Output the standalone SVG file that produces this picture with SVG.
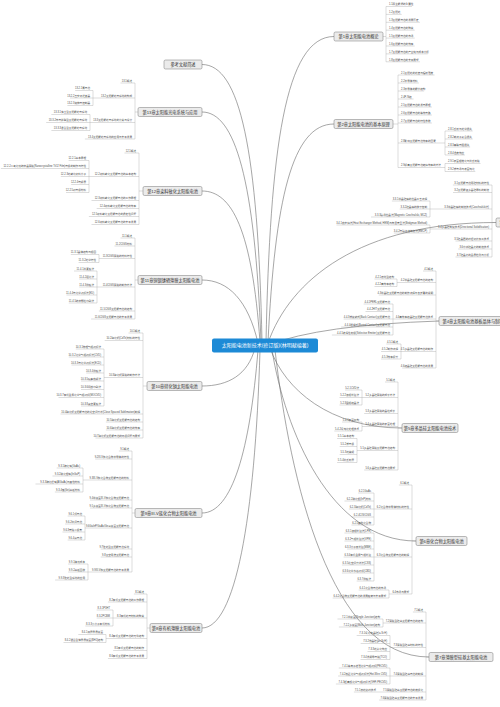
<svg xmlns="http://www.w3.org/2000/svg" width="500" height="707" viewBox="0 0 500 707">
<style>
text{font-family:"Liberation Sans","Noto Sans CJK SC",sans-serif}
.lf text{font-size:2.6px;fill:#4a4a4a}
.e{text-anchor:end}
.ch rect{fill:#ebebeb;stroke:#777;stroke-width:0.5}
.ch text{font-size:4.2px;fill:#333;text-anchor:middle}
.ch text.s{text-anchor:start}
.ln{fill:none;stroke:#9c9c9c;stroke-width:0.35}
.cv{fill:none;stroke:#6c6c6c;stroke-width:0.6}
</style>
<rect width="500" height="707" fill="#fff"/>
<g id="connectors">
<g class="cv">
<path d="M266,342 C270,150 285,36.5 334,36.5"/>
<path d="M268,342 C275,200 292,124 334,124"/>
<path d="M268,343 C290,280 360,222.5 496,222.5"/>
<path d="M268,345 Q320,325 439,321"/>
<path d="M270,348 C285,390 330,428 402,428"/>
<path d="M272,350 C285,430 330,541 416,541"/>
<path d="M275,350 C290,480 330,657 429,657"/>
<path d="M262,342 C258,150 240,64.5 202,64.5"/>
<path d="M261,342 C255,180 235,112 202,112"/>
<path d="M260,342 C252,230 232,191 202,191"/>
<path d="M258,343 C248,300 228,280 202,280"/>
<path d="M255,348 C248,375 228,386 202,386"/>
<path d="M258,350 C250,450 232,513 202,513"/>
<path d="M260,350 C255,520 235,628 202,628"/>
</g>
<g class="ln">
<path d="M383,36.5H386 M386,6.5V61.8 M386,6.5H412 M386,14.4H401.7 M386,22.3H419.9 M386,30.2H414.7 M386,38.1H414.7 M386,46H414.7 M386,53.9H427.7 M386,61.8H419.9"/>
<path d="M393,124H398 M398,75V167.5 M398,75H434.5 M398,83H418.9 M398,91H424.1 M398,99H413.5 M398,107H431.9 M398,115H431.9 M398,123H431.9 M398,143H445 M445,131V155 M445,131H472.7 M445,139H472.7 M445,147H470.1 M445,155H464.9 M398,167.5H445 M445,163.5V171.5 M445,163.5H480.5 M445,171.5H475.3"/>
<path d="M492,222.5H496 M492,185V257 M452.9,185H492 M453,192.5H492 M430,209H492 M430,201V217 M391.9,201H430 M399.7,209H430 M371,217H430 M430,229H492 M430,225V233 M336.5,225H430 M393.8,233H430 M455.5,241H492 M458.2,249H492 M455.5,257H492"/>
<path d="M436,321H439 M436,271V368 M423,271H436 M397,282.5H436 M397,279V286.5 M374.5,279H397 M374.5,286.5H397 M378.8,295H436 M393,319H436 M393,304V335 M363.7,304H393 M365.5,311.5H393 M343.7,319H393 M341.1,327H393 M331.9,335H393 M401,351.5H436 M401,344V359 M386.3,344H401 M381.1,351.5H401 M381.1,359H401 M402.2,368H436"/>
<path d="M398,428H402 M398,382V470 M385,382H398 M362,397.5H398 M362,390V405 M345.1,390H362 M339.5,397.5H362 M339.5,405H362 M364.2,413.5H398 M362,426.5H398 M362,422V431 M342.1,422H362 M334.3,431H362 M357,450.5H398 M357,438.5V462.5 M337.1,438.5H357 M339.7,446.5H357 M339.7,454.5H357 M337.1,462.5H357 M364.2,470H398"/>
<path d="M412,541H416 M412,485V594 M398.9,485H412 M374,509H412 M374,493V525 M358.1,493H374 M344.5,501H374 M348.9,509H374 M351.7,517H374 M351.5,525H374 M374,557H412 M374,533V581 M344.5,533H374 M344.5,541H374 M347.1,549H374 M343.7,557H374 M341.9,565H374 M341.9,573H374 M356.7,581H374 M389,594H412 M389,590V598 M358.7,590H389 M332.7,598H389"/>
<path d="M426,657H429 M426,612V700 M412.9,612H426 M383,623H426 M383,619V627 M337.5,619H383 M338.9,627H383 M390,647.5H426 M390,635.5V659.5 M356.7,635.5H390 M360.7,643.5H390 M367.5,651.5H390 M360.5,659.5H390 M390,676H426 M390,668V684 M338.8,668H390 M338.1,676H390 M335.9,684H390 M353.9,692H426 M379.2,700H426"/>
<path d="M135,112H138 M135,83V139 M120.5,83H135 M93,98H135 M93,90.5V105.5 M75.2,90.5H93 M70,98H93 M67.4,105.5H93 M90,122.5H135 M90,114.5V130.5 M51.4,114.5H90 M46.2,122.5H90 M51.4,130.5H90 M84.9,139H135"/>
<path d="M139,191H143 M139,153V224.5 M124.5,153H139 M89,176.5H139 M89,160.5V192.5 M68.6,160.5H89 M0.9,168.5H89 M60.8,176.5H89 M71.2,184.5H89 M66,192.5H89 M91.5,200.5H139 M96.7,208.5H139 M88.9,216.5H139 M91.5,224.5H139"/>
<path d="M135,280H138 M135,238V319 M120.5,238H135 M114.5,246H135 M99,258.5H135 M99,254.5V262.5 M70.8,254.5H99 M78.6,262.5H99 M97,287H135 M97,271V303 M74,271H97 M79.2,279H97 M79.2,287H97 M66.5,295H97 M68.8,303H97 M98.9,311H135 M91.1,319H135"/>
<path d="M143,386H147 M143,333V438 M128.5,333H143 M104.7,340.5H143 M104,377.5H143 M104,349V406 M75.8,349H104 M68.8,357H104 M71.5,365H104 M86.2,373H104 M81,381H104 M81,389.5H104 M58.5,397.5H104 M81,406H104 M60.5,414H143 M105.9,422H143 M105.9,430H143 M95.5,438H143"/>
<path d="M132,513H135 M132,451V572 M118.9,451H132 M95.2,459H132 M83,480H132 M83,468V492 M56.7,468H83 M52.5,476H83 M35.5,484H83 M54.9,492H83 M90,500H132 M90,508H132 M85,528H132 M85,516V540 M67.7,516H85 M65.1,524H85 M62.5,532H85 M67.7,540H85 M100.75,549H132 M100.75,557H132 M88,572H132 M88,564V580 M68.1,564H88 M68.1,572H88 M55.1,580H88"/>
<path d="M147,628H150 M147,594V658.5 M133.95,594H147 M107.95,602H147 M113,618H147 M113,610V626 M96.7,610H113 M96.7,618H113 M85.3,626H113 M106,638.5H147 M106,634.5V642.5 M78.3,634.5H106 M63.5,642.5H106 M113.15,650.5H147 M107.95,658.5H147"/>
</g>
</g>

<g id="ch1" class="ch"><rect x="334" y="32" width="49" height="9" rx="1.5"/><text x="358.5" y="38">第1章太阳能电池概论</text></g>
<g id="ch1-topics" class="lf">
<text x="389" y="5.4">1.1再生能源的重要性</text>
<text x="389" y="13.3">1.2太阳光</text>
<text x="389" y="21.2">1.3太阳能电池的发展历史</text>
<text x="389" y="29.1">1.4太阳能电池的种类</text>
<text x="389" y="37">1.5太阳能电池的市场</text>
<text x="389" y="44.9">1.6太阳能电池的效率</text>
<text x="389" y="52.8">1.7太阳能电池的产业链与成本分析</text>
<text x="389" y="60.7">1.8太阳能电池的未来展望</text>
</g>

<g id="ch2" class="ch"><rect x="334" y="119.5" width="59" height="9" rx="1.5"/><text x="363.5" y="125.5">第2章太阳能电池的基本原理</text></g>
<g id="ch2-topics" class="lf">
<text x="401" y="73.9">2.1太阳光的光谱与辐射强度</text>
<text x="401" y="81.9">2.2半导体材料</text>
<text x="401" y="89.9">2.3半导体的能带结构</text>
<text x="401" y="97.9">2.4P-N结</text>
<text x="401" y="105.9">2.5太阳能电池的发电原理</text>
<text x="401" y="113.9">2.6太阳能电池的等效电路</text>
<text x="401" y="121.9">2.7太阳能电池的特性参数</text>
<text x="401" y="141.9">2.8影响太阳能电池效率的因素</text>
<text x="448" y="129.9">2.8.1反射与光学损失</text>
<text x="448" y="137.9">2.8.2载流子复合损失</text>
<text x="448" y="145.9">2.8.3串联电阻损失</text>
<text x="448" y="153.9">2.8.4温度效应</text>
<text x="401" y="166.4">2.9提高太阳能电池转换效率的方法</text>
<text x="448" y="162.4">2.9.1表面粗糙化与抗反射膜</text>
<text x="448" y="170.4">2.9.2背电场与表面钝化</text>
</g>

<g id="ch3" class="ch"><rect x="496" y="218" width="80" height="9" rx="1.5"/><text class="s" x="499.5" y="224">第3章太阳能电池用硅晶材料</text></g>
<g id="ch3-topics" class="lf">
<text class="e" x="489" y="183.9">3.1太阳能电池用硅材料的特性</text>
<text class="e" x="489" y="191.4">3.2太阳能级多晶硅原料的制造</text>
<text class="e" x="489" y="207.9">3.3单晶硅棒的制造技术(Czochralski法)</text>
<text class="e" x="427" y="199.9">3.3.1单晶硅棒的拉晶工艺流程</text>
<text class="e" x="427" y="207.9">3.3.2硅晶棒的掺杂控制</text>
<text class="e" x="427" y="215.9">3.3.3磁场拉晶法(Magnetic Czochralski, MCZ)</text>
<text class="e" x="489" y="227.9">3.4多晶硅铸锭技术(Directional Solidification)</text>
<text class="e" x="427" y="223.9">3.4.1热交换法(Heat Exchanger Method, HEM)与布里奇曼法(Bridgman Method)</text>
<text class="e" x="427" y="231.9">3.4.2电磁连续铸造法(EMCP)</text>
<text class="e" x="489" y="239.9">3.5硅晶圆的线锯切片加工技术</text>
<text class="e" x="489" y="247.9">3.6带状硅晶片的制造技术</text>
<text class="e" x="489" y="255.9">3.7硅晶片的品质检测与分析</text>
</g>

<g id="ch4" class="ch"><rect x="439" y="316.5" width="90" height="9" rx="1.5"/><text class="s" x="442.5" y="322.5">第4章太阳能电池基板晶体与制程技术</text></g>
<g id="ch4-topics" class="lf">
<text class="e" x="433" y="269.9">4.1概述</text>
<text class="e" x="433" y="281.4">4.2单晶硅太阳能电池的结构</text>
<text class="e" x="394" y="277.9">4.2.1传统型结构</text>
<text class="e" x="394" y="285.4">4.2.2高效率结构</text>
<text class="e" x="433" y="293.9">4.3单晶硅太阳能电池的制作流程与各步骤的说明</text>
<text class="e" x="433" y="317.9">4.4高效率结晶硅太阳能电池技术</text>
<text class="e" x="390" y="302.9">4.4.1PERL太阳能电池</text>
<text class="e" x="390" y="310.4">4.4.2HIT太阳能电池</text>
<text class="e" x="390" y="317.9">4.4.3背接触式(Back Contact)太阳能电池</text>
<text class="e" x="390" y="325.9">4.4.4埋栅式(Buried Contact)太阳能电池</text>
<text class="e" x="390" y="333.9">4.4.5选择性射极(Selective Emitter)太阳能电池</text>
<text class="e" x="433" y="350.4">4.5多晶硅太阳能电池的制作</text>
<text class="e" x="398" y="342.9">4.5.1概述</text>
<text class="e" x="398" y="350.4">4.5.2制作流程</text>
<text class="e" x="398" y="357.9">4.5.3效率提升</text>
<text class="e" x="433" y="366.9">4.6结晶硅太阳能电池的发展</text>
</g>

<g id="ch5" class="ch"><rect x="402" y="423.5" width="56" height="9" rx="1.5"/><text x="430" y="429.5">第5章多晶硅太阳能电池技术</text></g>
<g id="ch5-topics" class="lf">
<text class="e" x="395" y="380.9">5.1概述</text>
<text class="e" x="395" y="396.4">5.2多晶硅薄膜的成长方法</text>
<text class="e" x="359" y="388.9">5.2.1CVD法</text>
<text class="e" x="359" y="396.4">5.2.2液相外延法</text>
<text class="e" x="359" y="403.9">5.2.3固相结晶法</text>
<text class="e" x="395" y="412.4">5.3多晶硅薄膜的晶粒成长</text>
<text class="e" x="395" y="425.4">5.4多晶硅薄膜的表面处理</text>
<text class="e" x="359" y="420.9">5.4.1表面织构</text>
<text class="e" x="359" y="429.9">5.4.2氢钝化处理技术</text>
<text class="e" x="395" y="449.4">5.5多晶硅薄膜太阳能电池结构</text>
<text class="e" x="354" y="437.4">5.5.1基本结构</text>
<text class="e" x="354" y="445.4">5.5.2背电极</text>
<text class="e" x="354" y="453.4">5.5.3光捕捉</text>
<text class="e" x="354" y="461.4">5.5.4抗反射层</text>
<text class="e" x="395" y="468.9">5.6多晶硅太阳能电池展望</text>
</g>

<g id="ch6" class="ch"><rect x="416" y="536.5" width="51" height="9" rx="1.5"/><text x="441.5" y="542.5">第6章化合物太阳能电池</text></g>
<g id="ch6-topics" class="lf">
<text class="e" x="409" y="483.9">6.1概述</text>
<text class="e" x="409" y="507.9">6.2化合物半导体材料的特性</text>
<text class="e" x="371" y="491.9">6.2.1GaAs</text>
<text class="e" x="371" y="499.9">6.2.2磷化铟(InP)材料</text>
<text class="e" x="371" y="507.9">6.2.3碲化镉(CdTe)</text>
<text class="e" x="371" y="515.9">6.2.4CIS/CIGS</text>
<text class="e" x="371" y="523.9">6.2.5其他化合物</text>
<text class="e" x="409" y="555.9">6.3化合物太阳能电池的制程</text>
<text class="e" x="371" y="531.9">6.3.1液相外延法(LPE)</text>
<text class="e" x="371" y="539.9">6.3.2气相外延法(VPE)</text>
<text class="e" x="371" y="547.9">6.3.3分子束外延(MBE)</text>
<text class="e" x="371" y="555.9">6.3.4有机金属气相外延</text>
<text class="e" x="371" y="563.9">6.3.5近空间升华法(CSS)</text>
<text class="e" x="371" y="571.9">6.3.6化学水浴沉积(CBD)</text>
<text class="e" x="371" y="579.9">6.3.7溅镀法</text>
<text class="e" x="409" y="592.9">6.4市场与展望</text>
<text class="e" x="386" y="588.9">6.4.1化合物电池的市场</text>
<text class="e" x="386" y="596.9">6.4.2化合物太阳能电池的发展趋势与未来展望</text>
</g>

<g id="ch7" class="ch"><rect x="429" y="652.5" width="64" height="9" rx="1.5"/><text x="461" y="658.5">第7章薄膜型硅基太阳能电池</text></g>
<g id="ch7-topics" class="lf">
<text class="e" x="423" y="610.9">7.1概述</text>
<text class="e" x="423" y="621.9">7.2薄膜型硅基太阳能电池的结构</text>
<text class="e" x="380" y="617.9">7.2.1单接面(Single Junction)结构</text>
<text class="e" x="380" y="625.9">7.2.2多接面(Multi-Junction)结构</text>
<text class="e" x="423" y="646.4">7.3薄膜型硅基材料的特性</text>
<text class="e" x="387" y="634.4">7.3.1氢化非晶硅(a-Si:H)</text>
<text class="e" x="387" y="642.4">7.3.2微晶硅(μc-Si:H)</text>
<text class="e" x="387" y="650.4">7.3.3光劣化效应</text>
<text class="e" x="387" y="658.4">7.3.4透明导电膜(TCO)</text>
<text class="e" x="423" y="674.9">7.4薄膜型硅基电池的制程</text>
<text class="e" x="387" y="666.9">7.4.1等离子增强化学气相沉积(PECVD)</text>
<text class="e" x="387" y="674.9">7.4.2热丝化学气相沉积法(Hot-Wire CVD)</text>
<text class="e" x="387" y="682.9">7.4.3超高频化学气相沉积法(VHF-PECVD)</text>
<text class="e" x="423" y="690.9">7.5薄膜型硅基太阳能电池的模组化</text>
<text class="e" x="376" y="690.9">7.5.1激光划线技术</text>
<text class="e" x="423" y="698.9">7.6薄膜型硅基太阳能电池的未来发展</text>
</g>

<g id="ch8" class="ch"><rect x="150" y="623.5" width="52" height="9" rx="1.5"/><text x="176" y="629.5">第8章有机薄膜太阳能电池</text></g>
<g id="ch8-topics" class="lf">
<text class="e" x="144" y="592.9">8.1概述</text>
<text class="e" x="144" y="600.9">8.2有机太阳能电池的工作原理</text>
<text class="e" x="144" y="616.9">8.3有机光电材料的种类</text>
<text class="e" x="110" y="608.9">8.3.1P3HT</text>
<text class="e" x="110" y="616.9">8.3.2PCBM</text>
<text class="e" x="110" y="624.9">8.3.3小分子有机材料</text>
<text class="e" x="144" y="637.4">8.4有机太阳能电池的元件结构</text>
<text class="e" x="103" y="633.4">8.4.1双层异质接面</text>
<text class="e" x="103" y="641.4">8.4.2混合型体异质接面(BHJ)结构</text>
<text class="e" x="144" y="649.4">8.5有机太阳能电池的制作</text>
<text class="e" x="144" y="657.4">8.6有机太阳能电池的未来发展</text>
</g>

<g id="ch9" class="ch"><rect x="135" y="508.5" width="67" height="9" rx="1.5"/><text x="168.5" y="514.5">第9章III-V族化合物太阳能电池</text></g>
<g id="ch9-topics" class="lf">
<text class="e" x="129" y="449.9">9.1概述</text>
<text class="e" x="129" y="457.9">9.2III-V族化合物半导体的特性</text>
<text class="e" x="129" y="478.9">9.3III-V族化合物太阳能电池的材料</text>
<text class="e" x="80" y="466.9">9.3.1砷化镓(GaAs)</text>
<text class="e" x="80" y="474.9">9.3.2磷化铟镓(InGaP)</text>
<text class="e" x="80" y="482.9">9.3.3砷化铝镓(AlGaAs)与其他材料</text>
<text class="e" x="80" y="490.9">9.3.4锗(Ge)基板材料</text>
<text class="e" x="129" y="498.9">9.4单接面III-V族化合物太阳能电池</text>
<text class="e" x="129" y="506.9">9.5多接面III-V族化合物太阳能电池</text>
<text class="e" x="129" y="526.9">9.6GaInP/GaAs/Ge三接面太阳能电池</text>
<text class="e" x="82" y="514.9">9.6.1顶电池</text>
<text class="e" x="82" y="522.9">9.6.2中间电池</text>
<text class="e" x="82" y="530.9">9.6.3穿隧二极管</text>
<text class="e" x="82" y="538.9">9.6.4底电池</text>
<text class="e" x="129" y="547.9">9.7聚光型太阳能电池系统</text>
<text class="e" x="129" y="555.9">9.8太空用途太阳能电池</text>
<text class="e" x="129" y="570.9">9.9III-V族太阳能电池的未来发展</text>
<text class="e" x="85" y="562.9">9.9.1降低成本</text>
<text class="e" x="85" y="570.9">9.9.2基板回收</text>
<text class="e" x="85" y="578.9">9.9.3聚光型系统的应用</text>
</g>

<g id="ch10" class="ch"><rect x="147" y="381.5" width="55" height="9" rx="1.5"/><text x="174.5" y="387.5">第10章碲化镉太阳能电池</text></g>
<g id="ch10-topics" class="lf">
<text class="e" x="140" y="331.9">10.1概述</text>
<text class="e" x="140" y="339.4">10.2碲化镉(CdTe)材料的特性</text>
<text class="e" x="140" y="376.4">10.3碲化镉薄膜的制作方法</text>
<text class="e" x="101" y="347.9">10.3.1物理气相沉积法</text>
<text class="e" x="101" y="355.9">10.3.2化学气相沉积法(CVD)</text>
<text class="e" x="101" y="363.9">10.3.3电化学沉积法(ECD)</text>
<text class="e" x="101" y="371.9">10.3.4溅镀法</text>
<text class="e" x="101" y="379.9">10.3.5喷雾热解法</text>
<text class="e" x="101" y="388.4">10.3.6网版印刷法</text>
<text class="e" x="101" y="396.4">10.3.7有机金属化学气相沉积(MOCVD)</text>
<text class="e" x="101" y="404.9">10.3.8真空蒸镀法</text>
<text class="e" x="140" y="412.9">10.4碲化镉太阳能电池的近空间升华(Close Spaced Sublimation)制程</text>
<text class="e" x="140" y="420.9">10.5碲化镉太阳能电池的结构</text>
<text class="e" x="140" y="428.9">10.6碲化镉太阳能电池的效率</text>
<text class="e" x="140" y="436.9">10.7碲化镉太阳能电池的环保问题与展望</text>
</g>

<g id="ch11" class="ch"><rect x="138" y="275.5" width="64" height="9" rx="1.5"/><text x="170" y="281.5">第11章铜铟镓硒薄膜太阳能电池</text></g>
<g id="ch11-topics" class="lf">
<text class="e" x="132" y="236.9">11.1概述</text>
<text class="e" x="132" y="244.9">11.2CIGS材料</text>
<text class="e" x="132" y="257.4">11.3CIGS薄膜的材料特性</text>
<text class="e" x="96" y="253.4">11.3.1晶体结构与相图</text>
<text class="e" x="96" y="261.4">11.3.2光学特性</text>
<text class="e" x="132" y="285.9">11.4CIGS薄膜的制作方法</text>
<text class="e" x="94" y="269.9">11.4.1共蒸镀法</text>
<text class="e" x="94" y="277.9">11.4.2硒化法</text>
<text class="e" x="94" y="285.9">11.4.3溅镀法</text>
<text class="e" x="94" y="293.9">11.4.4电化学沉积法(ED)</text>
<text class="e" x="94" y="301.9">11.4.5纳米颗粒印刷法</text>
<text class="e" x="132" y="309.9">11.5CIGS太阳能电池的结构</text>
<text class="e" x="132" y="317.9">11.6CIGS太阳能电池的未来发展</text>
</g>

<g id="ch12" class="ch"><rect x="143" y="186.5" width="59" height="9" rx="1.5"/><text x="172.5" y="192.5">第12章染料敏化太阳能电池</text></g>
<g id="ch12-topics" class="lf">
<text class="e" x="136" y="151.9">12.1概述</text>
<text class="e" x="136" y="175.4">12.2染料敏化太阳能电池的基本结构</text>
<text class="e" x="86" y="159.4">12.2.1基本原理</text>
<text class="e" x="86" y="167.4">12.2.2二氧化钛纳米晶薄膜(Nanocrystalline TiO2 Film)电极的制作与特性</text>
<text class="e" x="86" y="175.4">12.2.3光敏化染料分子</text>
<text class="e" x="86" y="183.4">12.2.4电解质</text>
<text class="e" x="86" y="191.4">12.2.5对电极材料</text>
<text class="e" x="136" y="199.4">12.3染料敏化太阳能电池的工作原理</text>
<text class="e" x="136" y="207.4">12.4染料敏化太阳能电池的效率</text>
<text class="e" x="136" y="215.4">12.5染料敏化太阳能电池的稳定性问题</text>
<text class="e" x="136" y="223.4">12.6染料敏化太阳能电池的未来发展</text>
</g>

<g id="ch13" class="ch"><rect x="138" y="107.5" width="64" height="9" rx="1.5"/><text x="170" y="113.5">第13章太阳能光电系统与应用</text></g>
<g id="ch13-topics" class="lf">
<text class="e" x="132" y="81.9">13.1概述</text>
<text class="e" x="132" y="96.9">13.2太阳能光电系统的构成</text>
<text class="e" x="90" y="89.4">13.2.1蓄电池</text>
<text class="e" x="90" y="96.9">13.2.2直交流逆变器</text>
<text class="e" x="90" y="104.4">13.2.3充放电控制器</text>
<text class="e" x="132" y="121.4">13.3太阳能光电系统的分类与设计</text>
<text class="e" x="87" y="113.4">13.3.1独立型太阳能光电系统</text>
<text class="e" x="87" y="121.4">13.3.2市电并联型太阳能光电系统</text>
<text class="e" x="87" y="129.4">13.3.3混合型太阳能光电系统</text>
<text class="e" x="132" y="137.9">13.4太阳能光电系统的应用与未来发展</text>
</g>

<g id="refs" class="ch"><rect x="164" y="60" width="38" height="9" rx="1.5"/><text x="183" y="66">参考文献简述</text></g>

<g id="root">
<rect x="212" y="338.5" width="106" height="14" rx="2" fill="#1d8ad6"/>
<text x="265" y="347.3" font-size="5" fill="#fff" text-anchor="middle">太阳能电池新技术(修订版)(林明献编著)</text>
</g>
</svg>
